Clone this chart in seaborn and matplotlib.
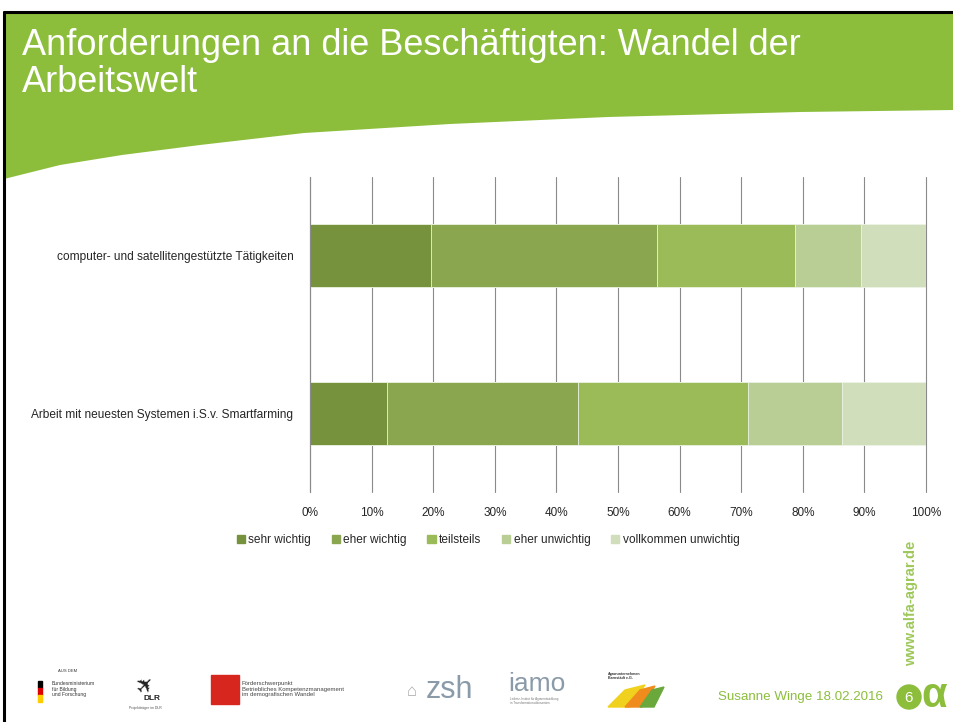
import numpy as np
import pandas as pd
import matplotlib
matplotlib.use("Agg")
import matplotlib.pyplot as plt
from matplotlib.patches import Polygon, Circle, Rectangle
import seaborn as sns

# Daten (Prozent)
categories = [
    "computer- und satellitengestützte Tätigkeiten",
    "Arbeit mit neuesten Systemen i.S.v. Smartfarming",
]
series = ["sehr wichtig", "eher wichtig", "teilsteils", "eher unwichtig", "vollkommen unwichtig"]
sehr_wichtig = [19.6, 12.5]
eher_wichtig = [36.7, 31.0]
teilsteils = [22.4, 27.6]
eher_unwichtig = [10.7, 15.3]
vollkommen_unwichtig = [10.6, 13.6]
x_ticks = [0, 10, 20, 30, 40, 50, 60, 70, 80, 90, 100]

colors = ["#76923C", "#8AA750", "#9BBB59", "#B9CE95", "#D1DEBC"]
GREEN = "#8CBE3C"

sns.set_theme(style="white")
plt.rcParams["font.family"] = ["Liberation Sans", "DejaVu Sans"]

fig = plt.figure(figsize=(9.54, 7.22), dpi=100)
fig.patch.set_facecolor("white")

# Folienhintergrund in Pixelkoordinaten
bg = fig.add_axes([0, 0, 1, 1], zorder=-1)
bg.set_xlim(0, 954)
bg.set_ylim(722, 0)
bg.axis("off")
curve_x = [954, 800, 608, 450, 304, 200, 122, 60, 4]
curve_y = [110, 112, 117, 124, 133, 145, 155, 165, 179]
header = [(4, 12), (954, 12)] + list(zip(curve_x, curve_y))
bg.add_patch(Polygon(header, closed=True, facecolor=GREEN, edgecolor="none"))
bg.plot([4, 954], [12, 12], color="black", lw=2.2)
bg.plot([4, 4], [12, 722], color="black", lw=2.2)
bg.text(22, 28, "Anforderungen an die Beschäftigten: Wandel der\nArbeitswelt",
        color="white", fontsize=26, va="top", linespacing=1.08)

# Fußzeile
bg.text(718, 697, "Susanne Winge 18.02.2016", color=GREEN, fontsize=9.6, va="center")
bg.add_patch(Circle((909, 697), 12, color=GREEN))
bg.text(909, 698, "6", color="white", fontsize=11, ha="center", va="center")
bg.text(934, 696, "α", color=GREEN, fontsize=30, fontweight="bold", ha="center", va="center")
bg.text(911, 603, "www.alfa-agrar.de", color=GREEN, fontsize=10.5, fontweight="bold",
        rotation=90, ha="center", va="center", alpha=0.85)

# Logos (vereinfacht)
bg.add_patch(Rectangle((38, 681), 4, 7, color="black"))
bg.add_patch(Rectangle((38, 688), 4, 7, color="#dd0000"))
bg.add_patch(Rectangle((38, 695), 4, 7, color="#ffcc00"))
bg.text(52, 689, "Bundesministerium\nfür Bildung\nund Forschung", fontsize=3.6, color="#333333", va="center")
bg.text(58, 672, "AUS DEM", fontsize=3, color="#333333")
bg.text(147, 686, "✈", fontsize=16, color="#222222", ha="center", va="center", rotation=45)
bg.text(152, 699, "DLR", fontsize=6, fontweight="bold", color="#222222", ha="center", va="center")
bg.text(145, 709, "Projektträger im DLR", fontsize=2.5, color="#555555", ha="center")
bg.add_patch(Rectangle((211, 675), 28, 29, color="#d7261e"))
bg.text(242, 689, "Förderschwerpunkt\nBetriebliches Kompetenzmanagement\nim demografischen Wandel",
        fontsize=4.3, color="#444444", va="center")
bg.text(412, 691, "⌂", fontsize=12, color="#aaaaaa", ha="center", va="center")
bg.text(426, 690, "zsh", fontsize=22, color="#8a9aa8", va="center")
bg.text(508, 684, "iamo", fontsize=19, color="#8a9aa8", va="center")
bg.text(510, 701, "Leibniz-Institut für Agrarentwicklung\nin Transformationsökonomien", fontsize=2.2,
        color="#777777", va="center")
bg.text(608, 676, "Agrarunternehmen\nBarnstädt e.G.", fontsize=2.6, fontweight="bold", color="#333333", va="center")
bg.add_patch(Polygon([(608, 707), (625, 690), (645, 685), (630, 707)], color="#f0d21e"))
bg.add_patch(Polygon([(625, 707), (640, 690), (655, 686), (642, 707)], color="#f08c1e"))
bg.add_patch(Polygon([(640, 707), (652, 690), (664, 687), (654, 707)], color="#6aa83c"))

# Diagramm
ax = fig.add_axes([310 / 954, 1 - 492 / 722, 616 / 954, 315 / 722])
df = pd.DataFrame({
    "Kategorie": categories,
    "sehr wichtig": sehr_wichtig,
    "eher wichtig": eher_wichtig,
    "teilsteils": teilsteils,
    "eher unwichtig": eher_unwichtig,
    "vollkommen unwichtig": vollkommen_unwichtig,
})
cum = df[series].cumsum(axis=1)
cum["Kategorie"] = df["Kategorie"]

# gestapelte Balken: kumulierte Summen von hinten nach vorne zeichnen
for name, col in reversed(list(zip(series, colors))):
    sns.barplot(data=cum, x=name, y="Kategorie", orient="h", color=col, width=0.4,
                edgecolor="#eef3e6", linewidth=0.6, saturation=1, ax=ax, label=name)

ax.set_xlim(0, 100)
ax.set_ylim(1.5, -0.5)
ax.set_xticks(x_ticks)
ax.set_xticklabels([f"{t}%" for t in x_ticks], fontsize=8.5)
ax.grid(axis="x", color="#8a8a8a", lw=0.8)
for gl in ax.get_xgridlines():
    gl.set_clip_on(False)
ax.set_axisbelow(True)
ax.set_xlabel("")
ax.set_ylabel("")
ax.tick_params(axis="x", length=0, pad=11)
ax.tick_params(axis="y", length=0, pad=12, labelsize=8.6)
ax.set_yticks([-0.5, 0.5, 1.5], minor=True)
ax.tick_params(axis="y", which="minor", length=4, color="#8a8a8a", width=0.8)
for s in ["top", "right", "bottom"]:
    ax.spines[s].set_visible(False)
ax.spines["left"].set_color("#8a8a8a")
ax.spines["left"].set_linewidth(0.8)
if ax.get_legend() is not None:
    ax.get_legend().remove()

handles = [Rectangle((0, 0), 1, 1, color=c) for c in colors]
fig.legend(handles, series, loc="center", bbox_to_anchor=(488 / 954, 1 - 540 / 722), ncol=5,
           frameon=False, fontsize=8.6, handlelength=0.7, handleheight=0.7,
           handletextpad=0.3, columnspacing=1.7)

fig.savefig("out.png", dpi=100, facecolor="white")
